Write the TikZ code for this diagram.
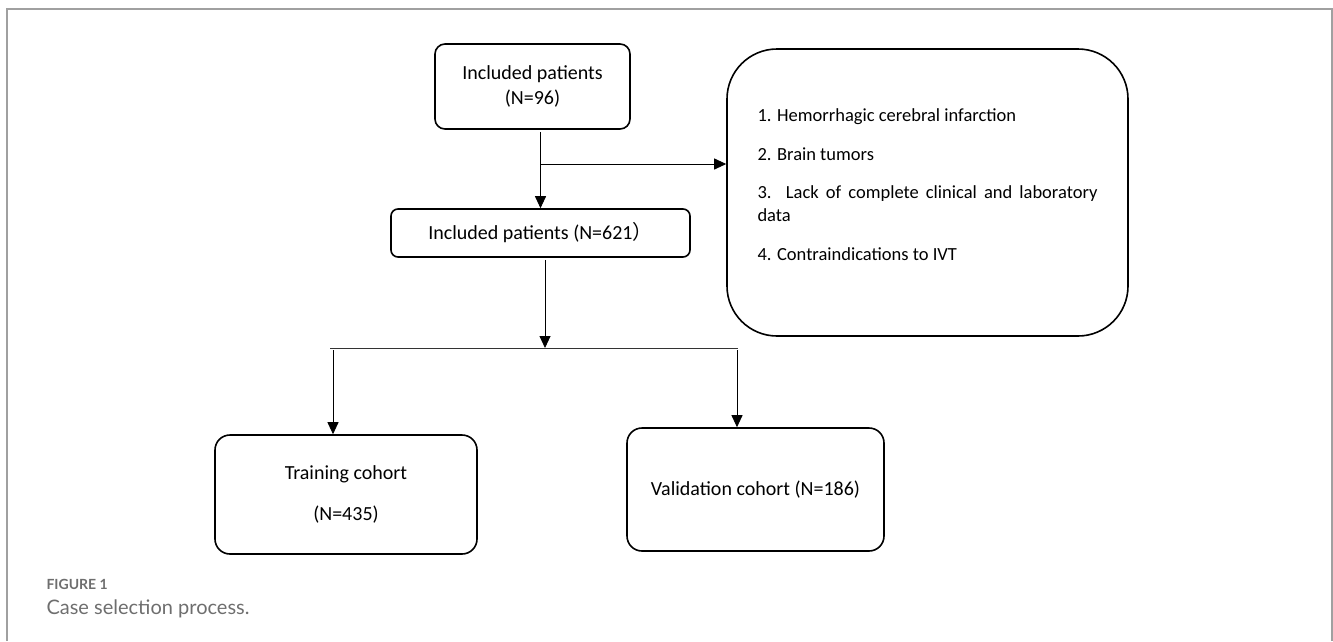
\documentclass[tikz,border=0pt]{standalone}
\usepackage{fontspec}
\setmainfont{Carlito}
\newfontfamily\capfont{Lato}
\newfontfamily\cjk{Noto Sans CJK SC}
\usetikzlibrary{arrows.meta}
\definecolor{framegray}{HTML}{A0A0A0}
\definecolor{capgray}{HTML}{6E6E6E}

\begin{document}
\begin{tikzpicture}[x=1pt,y=-1pt,font=\fontsize{20}{25}\selectfont,
		box/.style={draw, line width=1.6pt, rounded corners=10pt, align=center, inner sep=0pt},
		arr/.style={line width=0.9pt, shorten <=2pt, -{Stealth[inset=0pt,length=12pt,width=11pt]}}]
		\useasboundingbox (0,0) rectangle (1333,641);
		\draw[framegray, line width=1.5pt] (7,641) -- (7,9) -- (1332,9) -- (1332,641);
		\node[box, minimum width=195pt, minimum height=85pt] (incl) at (532.5,86.5) {Included patients\\(N=96)};
		\node[box, minimum width=299pt, minimum height=48pt, rounded corners=7pt] (kept) at (540.5,233) {Included patients (N=621{\cjk ）}};
		\node[box, minimum width=401pt, minimum height=287pt, rounded corners=50pt, text width=340pt, align=justify,
			font=\fontsize{18.5}{23}\selectfont] (excl) at (927.5,192.5)
			{\parindent=0pt\parskip=15.5pt 1. Hemorrhagic cerebral infarction\par 2. Brain tumors\par 3. Lack of complete clinical and laboratory data\par 4. Contraindications to IVT\par\hrule height 16pt width 0pt};
		\node[box, minimum width=262pt, minimum height=119pt, rounded corners=15pt] (train) at (346,494.5) {Training cohort\\[16pt](N=435)};
		\node[box, minimum width=257pt, minimum height=123pt, rounded corners=15pt] (valid) at (755.5,489.5) {Validation cohort (N=186)};
		\coordinate (br) at (540,164);
		\coordinate (split) at (545,348);
		\coordinate (sl) at (333,348);
		\coordinate (sr) at (737,348);
		\draw[arr] (kept.north |- incl.south) -- (kept.north);
		\draw[arr, shorten <=0pt] (br) -- (br -| excl.west);
		\draw[arr] (kept.south -| split) -- (split);
		\draw[line width=0.9pt, black!80] (330,348) -- (738,348);
		\draw[arr] (sl) -- (sl |- train.north);
		\draw[arr] (sr) -- (sr |- valid.north);
		\node[anchor=base west, capgray, font=\capfont\bfseries\fontsize{14}{16}\selectfont] (figlab) at (43,589) {FIGURE 1};
		\node[anchor=base west, capgray, font=\capfont\fontsize{20}{24}\selectfont] (figcap) at (43,614) {Case selection process.};
	\end{tikzpicture}
\end{document}
